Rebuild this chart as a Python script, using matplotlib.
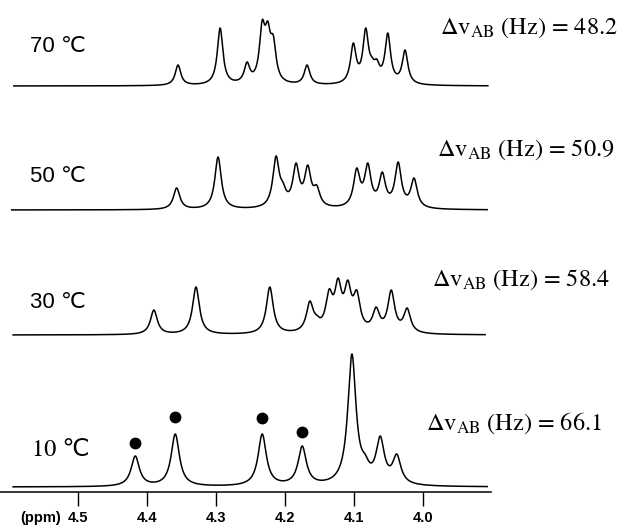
import numpy as np
import matplotlib
matplotlib.use("Agg")
import matplotlib.pyplot as plt

plt.rcParams['mathtext.fontset'] = 'stix'

# ---- data ----
temps = ["70 ℃", "50 ℃", "30 ℃", "10 ℃"]
dnu_labels = ["48.2", "50.9", "58.4", "66.1"]

# peak positions (ppm) and observed heights (relative units)
peaks_70 = [4.355, 4.294, 4.255, 4.233, 4.225, 4.217, 4.168, 4.101, 4.083, 4.074, 4.067, 4.051, 4.026]
heights_70 = [21, 58, 24, 66, 65, 51, 21, 43, 58, 29, 27, 53, 36]

peaks_50 = [4.357, 4.297, 4.213, 4.203, 4.184, 4.167, 4.154, 4.096, 4.080, 4.059, 4.036, 4.013]
heights_50 = [22, 53, 54, 28, 47, 45, 25, 42, 47, 38, 48, 32]

peaks_30 = [4.390, 4.329, 4.222, 4.164, 4.154, 4.136, 4.123, 4.109, 4.096, 4.068, 4.046, 4.023]
heights_30 = [25, 48, 48, 34, 20, 46, 57, 55, 45, 28, 45, 27]

peaks_10 = [4.417, 4.359, 4.233, 4.175, 4.103, 4.084, 4.062, 4.038]
heights_10 = [31, 53, 53, 41, 133, 33, 51, 33]

# marked (dotted) peaks in the 10 C spectrum and the dot gap above each peak
dot_ppm = [4.417, 4.359, 4.233, 4.175]
dot_gap = [13, 17, 16, 14]

tick_vals = [4.5, 4.4, 4.3, 4.2, 4.1, 4.0]

# ---- layout / style ----
W, H = 624, 527
fig = plt.figure(figsize=(W / 100, H / 100), dpi=100)
ax = fig.add_axes([0, 0, 1, 1])
ax.set_xlim(4.613, 3.7087)
ax.set_ylim(0, H)

spectra = [
    (peaks_70, heights_70, 441, 0.0049, (4.593, 3.906)),
    (peaks_50, heights_50, 317, 0.0056, (4.596, 3.907)),
    (peaks_30, heights_30, 192, 0.0060, (4.594, 3.910)),
    (peaks_10, heights_10, 40, 0.0072, (4.594, 3.907)),
]


def lor(x, x0, g):
    return g * g / ((x - x0) ** 2 + g * g)


for pk, hts, base, gam, (x0, x1) in spectra:
    pk = np.array(pk)
    hts = np.array(hts, dtype=float)
    # amplitudes so that the summed curve passes through the observed heights
    M = lor(pk[:, None], pk[None, :], gam)
    amp = np.clip(np.linalg.solve(M, hts), 0.5, None)
    x = np.linspace(x0, x1, 3000)
    y = (amp[None, :] * lor(x[:, None], pk[None, :], gam)).sum(axis=1)
    ax.plot(x, base + y, color='black', lw=1.1)

# dots above marked peaks
pk10 = np.array(peaks_10)
h10 = np.array(heights_10)
dot_y = [40 + h10[np.argmin(abs(pk10 - d))] + g for d, g in zip(dot_ppm, dot_gap)]
ax.plot(dot_ppm, dot_y, 'o', color='black', ms=7.5)

# temperature labels
temp_y = [480, 351, 224, 77]
temp_x = [4.570, 4.570, 4.570, 4.566]
for i, (t, tx, ty) in enumerate(zip(temps, temp_x, temp_y)):
    fam = ['STIXGeneral', 'DejaVu Sans'] if i == 3 else ['Liberation Sans', 'DejaVu Sans']
    ax.text(tx, ty, t, fontsize=16 if i < 3 else 17.5, family=fam,
            ha='left', va='center', color='black')

# delta nu labels
dnu_y = [499, 377, 247, 104]
dnu_x = [3.976, 3.979, 3.987, 3.995]
for lab, ly, lx in zip(dnu_labels, dnu_y, dnu_x):
    ax.text(lx, ly, r'$\Delta\mathrm{v}_{\mathrm{AB}}$ (Hz) = ' + lab, fontsize=17.5,
            family='STIXGeneral', ha='left', va='center', color='black')

# ppm axis
for s in ['top', 'left', 'right']:
    ax.spines[s].set_visible(False)
ax.spines['bottom'].set_position(('data', 35))
ax.spines['bottom'].set_bounds(4.613, 3.901)
ax.spines['bottom'].set_linewidth(1.1)
ax.set_yticks([])
ax.set_xticks(tick_vals)
ax.set_xticklabels([f"{v:.1f}" for v in tick_vals], fontsize=10.5, fontweight='bold',
                   family='Liberation Sans')
ax.tick_params(axis='x', direction='out', length=10, width=1.0, pad=4)
ax.text(4.5 + 17 / 690, 2, '(ppm)', fontsize=10.5, fontweight='bold', family='Liberation Sans',
        ha='right', va='bottom')

fig.savefig('out.png', dpi=100)
